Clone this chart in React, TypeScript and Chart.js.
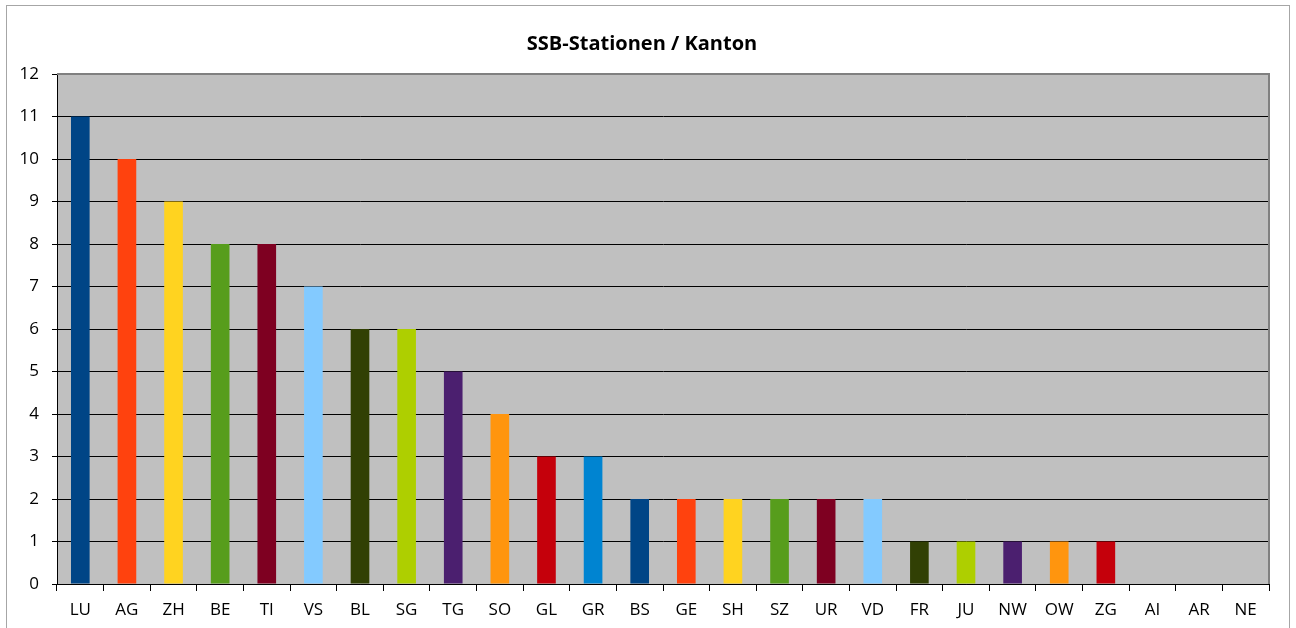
import React, { useEffect, useRef } from "react";
import { Chart, registerables } from "chart.js";

Chart.register(...registerables);

const categories = ["LU","AG","ZH","BE","TI","VS","BL","SG","TG","SO","GL","GR","BS","GE","SH","SZ","UR","VD","FR","JU","NW","OW","ZG","AI","AR","NE"];
const stations = [11,10,9,8,8,7,6,6,5,4,3,3,2,2,2,2,2,2,1,1,1,1,1,0,0,0];
const palette = ["#004586","#FF420E","#FFD320","#579D1C","#7E0021","#83CAFF","#314004","#AECF00","#4B1F6F","#FF950E","#C5000B","#0084D1"];
const barColors = categories.map((_, i) => palette[i % palette.length]);
const titleText = "SSB-Stationen / Kanton";

const FONT = "'Open Sans', sans-serif";

const framePlugin = {
  id: "frame",
  beforeDraw(chart: any) {
    const { ctx, chartArea: a } = chart;
    ctx.save();
    ctx.fillStyle = "#ffffff";
    ctx.fillRect(0, 0, chart.width, chart.height);
    ctx.strokeStyle = "#a6a6a6";
    ctx.lineWidth = 1;
    ctx.strokeRect(6.5, 5.5, 1283, 700);
    ctx.fillStyle = "#C0C0C0";
    ctx.fillRect(a.left, a.top, a.right - a.left, a.bottom - a.top);
    ctx.restore();
  },
  afterDraw(chart: any) {
    const { ctx, chartArea: a } = chart;
    ctx.save();
    ctx.strokeStyle = "#808080";
    ctx.lineWidth = 2;
    ctx.beginPath();
    ctx.moveTo(a.left, a.top);
    ctx.lineTo(a.right, a.top);
    ctx.lineTo(a.right, a.bottom);
    ctx.stroke();
    ctx.fillStyle = "#000";
    ctx.font = "bold 20px " + FONT;
    ctx.textAlign = "center";
    ctx.textBaseline = "middle";
    ctx.fillText(titleText, 642, 44);
    ctx.restore();
  },
};

export default function App() {
  const ref = useRef<HTMLCanvasElement>(null);
  useEffect(() => {
    const chart = new Chart(ref.current!, {
      type: "bar",
      data: {
        labels: categories,
        datasets: [{ data: stations, backgroundColor: barColors, barPercentage: 0.8, categoryPercentage: 0.5 }],
      },
      options: {
        responsive: false,
        animation: false,
        layout: { padding: { top: 74, right: 27, left: 0, bottom: 0 } },
        plugins: { legend: { display: false }, title: { display: false }, tooltip: { enabled: false } },
        scales: {
          x: {
            afterFit: (s: any) => { s.height = 44; },
            grid: { display: true, drawOnChartArea: false, drawTicks: true, offset: true, tickLength: 7, color: "#000", tickColor: "#000" },
            border: { color: "#000", width: 1 },
            ticks: { color: "#000", font: { family: FONT, size: 17 }, padding: 9, maxRotation: 0, autoSkip: false },
          },
          y: {
            min: 0,
            max: 12,
            afterFit: (s: any) => { s.width = 57; },
            grid: {
              color: (c: any) => (c.tick && c.tick.value === 12 ? "rgba(0,0,0,0)" : "#000"),
              tickColor: "#000",
              tickLength: 5,
              drawTicks: true,
            },
            border: { color: "#000", width: 1 },
            ticks: { stepSize: 1, color: "#000", font: { family: FONT, size: 17 }, padding: 13 },
          },
        },
      },
      plugins: [framePlugin],
    });
    return () => chart.destroy();
  }, []);
  return (
    <div style={{ position: "fixed", left: 0, top: 0, width: 1296, height: 628, background: "#fff" }}>
      <canvas ref={ref} width={1296} height={628} />
    </div>
  );
}
